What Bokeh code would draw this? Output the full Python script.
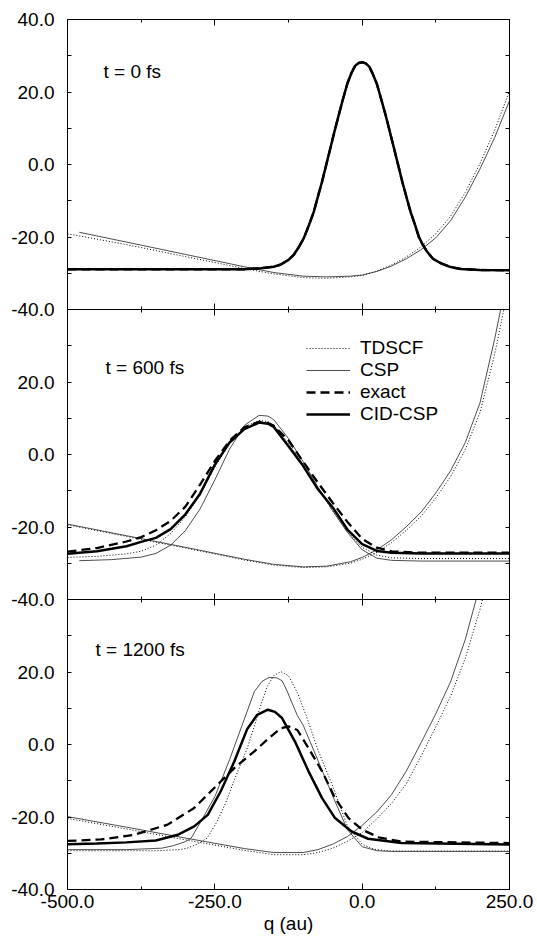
from bokeh.plotting import figure
from bokeh.models import (Range1d, LinearAxis, FixedTicker, PrintfTickFormatter,
                          Legend, LegendItem, Label)
from bokeh.layouts import column
from bokeh.embed import file_html
from bokeh.resources import INLINE

FONT = "Liberation Sans"
FS = "19px"

# ---------------- axes ----------------
x_major = [-500, -250, 0, 250]
x_minor = [-375, -125, 125]
y_major_top = [-40, -20, 0, 20, 40]
y_major_low = [-40, -20, 0, 20]
y_minor = [-30, -10, 10, 30]
panel_titles = ["t = 0 fs", "t = 600 fs", "t = 1200 fs"]
legend_labels = ["TDSCF", "CSP", "exact", "CID-CSP"]

# ---------------- t = 0 fs ----------------
q0_dens = [-500, -300, -200, -172, -150, -138, -125, -116, -108, -99, -90, -82, -75, -68, -61, -54,
           -47, -40, -33, -25, -18, -12, -6, 0, 6, 12, 18, 25, 33, 40, 47, 54, 61, 68, 75, 82,
           90, 96, 103, 110, 120, 133, 150, 167, 200, 250]
v0_dens = [-28.9, -28.9, -28.9, -28.6, -28.2, -27.6, -26.3, -24.9, -22.9, -20.3, -16.6, -13.0, -8.8,
           -4.7, -0.1, 4.5, 9.1, 13.5, 17.8, 22.4, 25.3, 27.2, 28.0, 28.2, 27.9, 27.0, 25.0, 22.2,
           17.6, 13.5, 9.0, 4.5, -0.1, -4.7, -8.9, -13.0, -16.8, -19.9, -22.2, -24.0, -26.0, -27.2,
           -28.3, -28.8, -29.1, -29.2]
q0_pot_csp = [-480, -400, -300, -200, -150, -100, -60, -20, 0, 25, 50, 75, 100, 125, 150, 175, 200, 225, 250]
v0_pot_csp = [-18.7, -21.4, -24.8, -28.2, -29.8, -30.8, -31.0, -30.8, -30.5, -29.5, -28.0, -26.0,
              -23.5, -20.2, -15.5, -9.0, -1.2, 7.5, 17.6]
q0_pot_tdscf = [-500, -400, -300, -200, -150, -100, -60, -20, 0, 25, 50, 75, 100, 125, 150, 175, 200, 225, 250]
v0_pot_tdscf = [-19.1, -22.1, -25.4, -28.7, -30.2, -31.2, -31.4, -31.0, -30.6, -29.4, -27.7, -25.5,
                -22.7, -19.1, -14.3, -7.7, 0.3, 9.5, 20.3]

# ---------------- t = 600 fs ----------------
q600 = [-500, -450, -400, -375, -350, -325, -300, -275, -250, -225, -200, -175, -160, -150, -125,
        -100, -75, -50, -25, 0, 25, 50, 100, 250]
v600_cid = [-27.4, -26.7, -25.3, -24.1, -23.0, -20.6, -16.5, -10.8, -2.8, 3.3, 7.0, 8.8, 8.5, 7.6,
            2.3, -3.2, -9.6, -14.6, -20.7, -24.7, -26.6, -27.1, -27.3, -27.3]
v600_exact = [-26.8, -25.8, -24.0, -22.8, -20.9, -18.3, -14.4, -8.3, -1.8, 3.8, 7.5, 9.0, 8.7, 7.9,
              3.9, -2.0, -7.8, -13.3, -18.6, -23.3, -25.7, -26.7, -27.1, -27.1]
v600_tdscf = [-28.4, -28.1, -27.4, -26.7, -25.0, -21.8, -17.2, -11.2, -3.5, 3.0, 7.6, 9.4, 9.1, 8.1,
              3.0, -2.8, -9.4, -15.6, -21.3, -25.6, -27.8, -28.5, -28.7, -28.7]
q600_csp = [-480, -425, -375, -350, -325, -300, -275, -250, -225, -200, -175, -160, -150, -125, -100,
            -75, -50, -25, 0, 25, 50, 100, 250]
v600_csp = [-29.3, -29.0, -28.3, -27.3, -25.0, -21.0, -15.0, -7.0, 1.5, 8.0, 10.8, 10.6, 9.6, 4.4,
            -2.0, -9.0, -15.5, -21.5, -26.3, -28.6, -29.2, -29.4, -29.4]
q600_pot_csp = [-500, -400, -300, -200, -150, -100, -60, -20, 0, 25, 50, 75, 100, 125, 150, 175, 200, 225, 245]
v600_pot_csp = [-19.2, -22.4, -25.6, -28.9, -30.3, -31.0, -30.8, -29.6, -28.4, -26.3, -23.5, -19.9,
                -15.9, -10.6, -4.5, 3.3, 14.3, 32.0, 48.0]
q600_pot_tdscf = [-500, -400, -300, -200, -150, -100, -60, -20, 0, 25, 50, 75, 100, 125, 150, 175, 200, 225, 250]
v600_pot_tdscf = [-19.4, -22.6, -25.8, -29.1, -30.5, -31.2, -31.0, -30.0, -28.9, -27.0, -24.3, -20.9,
                  -17.0, -12.0, -6.1, 1.4, 11.6, 27.8, 47.5]

# ---------------- t = 1200 fs ----------------
q1200_csp = [-500, -400, -340, -320, -300, -290, -275, -250, -225, -200, -183, -170, -158, -145, -136,
             -128, -121, -110, -100, -75, -50, -25, 0, 25, 50, 250]
v1200_csp = [-29.0, -29.0, -28.6, -27.9, -26.8, -25.8, -21.6, -14.4, -4.2, 7.0, 14.6, 17.4, 18.5,
             18.4, 17.6, 15.0, 12.2, 8.0, 5.3, -4.4, -14.2, -23.5, -28.2, -29.3, -29.5, -29.5]
q1200_tdscf = [-500, -350, -310, -297, -280, -263, -246, -230, -218, -205, -195, -183, -172, -161,
               -150, -138, -125, -110, -95, -75, -50, -25, 0, 20, 50, 250]
v1200_tdscf = [-29.3, -29.3, -29.0, -28.6, -27.5, -25.8, -21.2, -15.5, -10.2, -5.0, -1.0, 5.0, 10.9,
               16.0, 19.0, 20.1, 19.0, 14.3, 8.0, -1.5, -11.5, -22.5, -27.5, -28.9, -29.4, -29.4]
q1200_cid = [-500, -450, -400, -350, -313, -285, -262, -240, -217, -195, -178, -160, -148, -136,
             -114, -91, -68, -46, -18, 10, 67, 250]
v1200_cid = [-27.5, -27.3, -27.0, -26.5, -24.9, -22.6, -19.4, -12.9, -4.7, 4.3, 8.2, 9.6, 9.0, 7.3,
             0.8, -7.4, -14.8, -20.3, -24.0, -26.0, -27.2, -27.6]
q1200_exact = [-500, -443, -387, -330, -285, -251, -217, -183, -160, -138, -125, -110, -91, -68, -46,
               -23, 0, 28, 67, 250]
v1200_exact = [-26.6, -26.2, -24.9, -22.1, -17.5, -12.0, -6.5, -1.9, 1.5, 4.5, 5.0, 4.0, -1.0, -7.4,
               -14.8, -20.3, -23.5, -25.6, -26.8, -27.2]
q1200_pot_csp = [-500, -400, -300, -200, -150, -100, -75, -50, -25, 0, 25, 50, 75, 100, 125, 150, 175, 200]
v1200_pot_csp = [-19.9, -22.8, -25.8, -28.7, -29.8, -29.8, -29.0, -27.5, -25.4, -22.3, -18.6, -13.8,
                 -7.3, 0.5, 8.5, 17.3, 29.0, 44.0]
q1200_pot_tdscf = [-500, -400, -300, -200, -150, -100, -75, -50, -25, 0, 25, 50, 75, 100, 125, 150, 175, 200, 212]
v1200_pot_tdscf = [-20.4, -23.3, -26.3, -29.2, -30.4, -30.4, -29.8, -28.6, -26.7, -24.3, -20.5, -16.2,
                   -10.8, -3.2, 4.9, 13.3, 23.8, 37.3, 45.0]

# ---------------- styles ----------------
STY = {
    "TDSCF": dict(line_color="black", line_width=1.0, line_dash="1 2"),
    "CSP": dict(line_color="#3a3a3a", line_width=0.9),
    "exact": dict(line_color="black", line_width=2.3, line_dash="9 5"),
    "CID-CSP": dict(line_color="black", line_width=2.5),
}

xr = Range1d(-500, 250)


def style_axis(ax, labels, standoff, tick_in, minor_in):
    ax.axis_line_color = "black"
    ax.axis_line_width = 1
    ax.major_tick_line_color = "black"
    ax.minor_tick_line_color = "black"
    ax.major_tick_in = tick_in
    ax.major_tick_out = 0
    ax.minor_tick_in = minor_in
    ax.minor_tick_out = 0
    ax.major_label_text_font = FONT
    if labels:
        ax.major_label_text_color = "black"
        ax.major_label_text_font_size = FS
        ax.major_label_standoff = standoff
    else:
        ax.major_label_text_color = None
        ax.major_label_text_font_size = "0px"
        ax.major_label_standoff = 0


def make_panel(first, last, ymajor):
    p = figure(frame_width=442, frame_height=290, x_range=xr, y_range=Range1d(-40, 40),
               output_backend="svg", toolbar_location=None,
               x_axis_location=None, y_axis_location=None,
               min_border_left=67, min_border_right=25,
               min_border_top=19 if first else 12,
               min_border_bottom=12 if not last else 30,
               background_fill_color="white",
               border_fill_color="white" if first else None,
               outline_line_color="black", outline_line_width=1)
    p.grid.grid_line_color = None
    fmt = PrintfTickFormatter(format="%.1f")
    yl = LinearAxis(ticker=FixedTicker(ticks=ymajor, minor_ticks=y_minor), formatter=fmt)
    style_axis(yl, True, 13, 4, 4)
    p.add_layout(yl, "left")
    yrt = LinearAxis(ticker=FixedTicker(ticks=y_major_top, minor_ticks=y_minor), formatter=fmt)
    style_axis(yrt, False, 0, 4, 4)
    p.add_layout(yrt, "right")
    xb = LinearAxis(ticker=FixedTicker(ticks=x_major, minor_ticks=x_minor),
                    formatter=PrintfTickFormatter(format="%.1f"))
    style_axis(xb, last, 5, 6, 3)
    if last:
        xb.axis_label = "q (au)"
        xb.axis_label_text_font = FONT
        xb.axis_label_text_font_size = FS
        xb.axis_label_text_font_style = "normal"
        xb.axis_label_text_color = "black"
        xb.axis_label_standoff = 2
    p.add_layout(xb, "below")
    xa = LinearAxis(ticker=FixedTicker(ticks=x_major, minor_ticks=x_minor))
    style_axis(xa, False, 0, 6, 3)
    p.add_layout(xa, "above")
    return p


p1 = make_panel(True, False, y_major_top)
p2 = make_panel(False, False, y_major_low)
p3 = make_panel(False, True, y_major_low)
p2.margin = (-24, 0, 0, 0)
p3.margin = (-24, 0, 0, 0)

# panel 1
p1.line(q0_pot_tdscf, v0_pot_tdscf, **STY["TDSCF"])
p1.line(q0_pot_csp, v0_pot_csp, **STY["CSP"])
p1.line(q0_dens, v0_dens, **STY["TDSCF"])
p1.line(q0_dens, v0_dens, **STY["CSP"])
p1.line(q0_dens, v0_dens, **STY["exact"])
p1.line(q0_dens, v0_dens, **STY["CID-CSP"])

# panel 2
p2.line(q600_pot_tdscf, v600_pot_tdscf, **STY["TDSCF"])
p2.line(q600_pot_csp, v600_pot_csp, **STY["CSP"])
r_t = p2.line(q600, v600_tdscf, **STY["TDSCF"])
r_c = p2.line(q600_csp, v600_csp, **STY["CSP"])
r_e = p2.line(q600, v600_exact, **STY["exact"])
r_x = p2.line(q600, v600_cid, **STY["CID-CSP"])

# panel 3
p3.line(q1200_pot_tdscf, v1200_pot_tdscf, **STY["TDSCF"])
p3.line(q1200_pot_csp, v1200_pot_csp, **STY["CSP"])
p3.line(q1200_tdscf, v1200_tdscf, **STY["TDSCF"])
p3.line(q1200_csp, v1200_csp, **STY["CSP"])
p3.line(q1200_exact, v1200_exact, **STY["exact"])
p3.line(q1200_cid, v1200_cid, **STY["CID-CSP"])

legend = Legend(items=[LegendItem(label=legend_labels[0], renderers=[r_t]),
                       LegendItem(label=legend_labels[1], renderers=[r_c]),
                       LegendItem(label=legend_labels[2], renderers=[r_e]),
                       LegendItem(label=legend_labels[3], renderers=[r_x])],
                location=(239, 174), padding=0, margin=0, spacing=0,
                glyph_width=44, glyph_height=22, label_height=22, label_standoff=10,
                label_text_font=FONT, label_text_font_size=FS, label_text_color="black",
                border_line_color=None, background_fill_alpha=0)
p2.add_layout(legend)

for p, txt, (lx, ly) in zip([p1, p2, p3], panel_titles,
                            [(-439, 25.7), (-435.5, 24.0), (-452.5, 26.1)]):
    p.add_layout(Label(x=lx, y=ly, text=txt, text_font=FONT, text_font_size=FS,
                       text_color="black", text_baseline="middle", text_align="left"))

layout = column(p1, p2, p3, spacing=0)

open("out.html", "w").write(file_html(layout, INLINE))
